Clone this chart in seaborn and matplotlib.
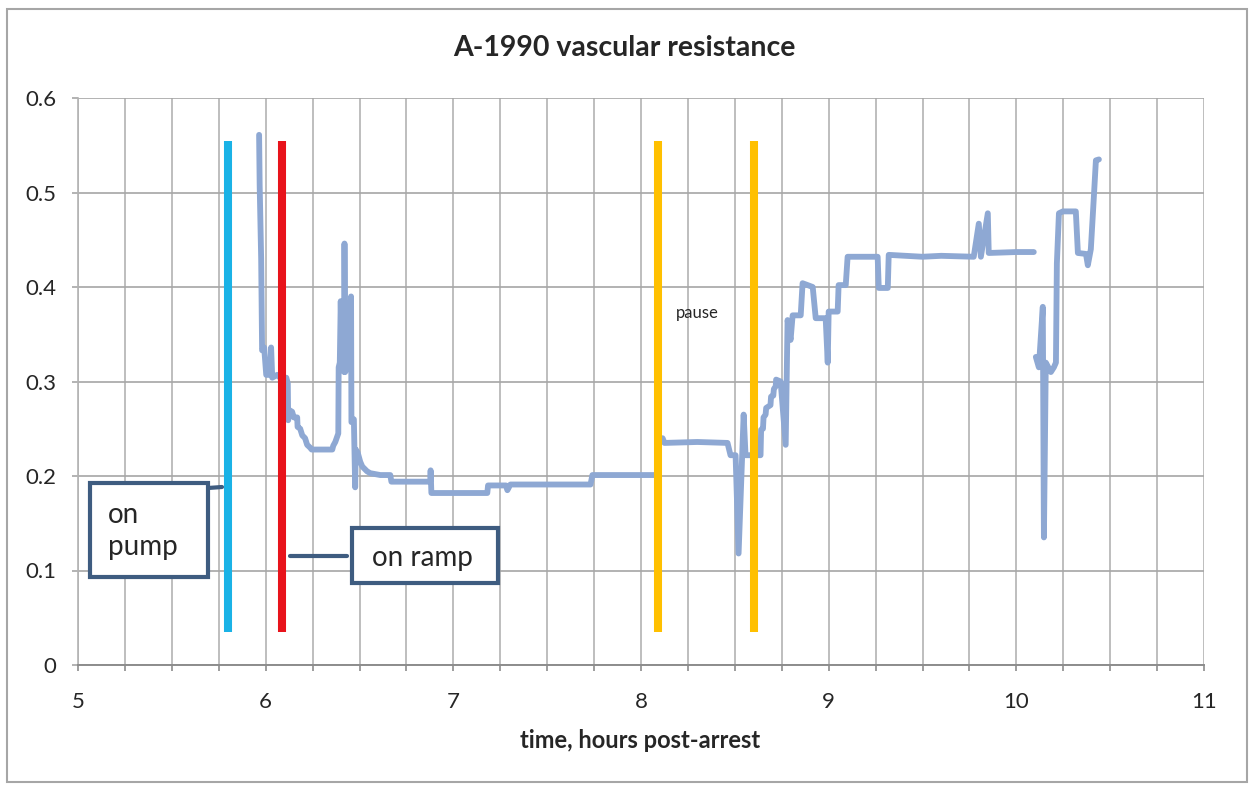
import numpy as np
import pandas as pd
import matplotlib
matplotlib.use("Agg")
import matplotlib.pyplot as plt
from matplotlib.ticker import MultipleLocator
from matplotlib.patches import Rectangle
from matplotlib.lines import Line2D
import seaborn as sns

# ---------------- data ----------------
title = "A-1990 vascular resistance"
x_label = "time, hours post-arrest"

# main trace, part 1 (hours post-arrest, resistance)
time_a = [5.965, 5.968, 5.976, 5.981, 5.992, 6.003, 6.024, 6.029, 6.035, 6.061,
          6.077, 6.110, 6.118, 6.120, 6.124, 6.141, 6.150, 6.168, 6.170, 6.184,
          6.195, 6.210, 6.221, 6.237, 6.245, 6.355, 6.360, 6.371, 6.387, 6.389,
          6.395, 6.400, 6.405, 6.418, 6.420, 6.424, 6.440, 6.455, 6.457, 6.470,
          6.477, 6.480, 6.490, 6.504, 6.515, 6.540, 6.557, 6.611, 6.664, 6.670,
          6.877, 6.879, 6.883, 7.181, 7.185, 7.280, 7.288, 7.304, 7.731, 7.741,
          8.051, 8.088, 8.095, 8.115, 8.125, 8.300, 8.461, 8.477, 8.504, 8.520,
          8.547, 8.557, 8.584, 8.621, 8.637, 8.640, 8.650, 8.653, 8.664, 8.667,
          8.690, 8.693, 8.705, 8.708, 8.718, 8.720, 8.744, 8.771, 8.781, 8.797,
          8.808, 8.851, 8.861, 8.915, 8.931, 8.984, 8.995, 9.000, 9.048, 9.053,
          9.091, 9.101, 9.261, 9.267, 9.315, 9.320, 9.500, 9.600, 9.773, 9.800,
          9.811, 9.848, 9.853, 10.000, 10.093]
res_a = [0.561, 0.508, 0.430, 0.333, 0.336, 0.307, 0.307, 0.336, 0.304, 0.307,
         0.304, 0.304, 0.298, 0.259, 0.270, 0.268, 0.262, 0.262, 0.252, 0.250,
         0.243, 0.240, 0.233, 0.230, 0.228, 0.228, 0.232, 0.236, 0.245, 0.315,
         0.320, 0.385, 0.330, 0.310, 0.446, 0.310, 0.320, 0.390, 0.257, 0.260,
         0.188, 0.228, 0.225, 0.215, 0.210, 0.205, 0.203, 0.201, 0.201, 0.194,
         0.194, 0.206, 0.182, 0.182, 0.190, 0.190, 0.185, 0.191, 0.191, 0.201,
         0.201, 0.201, 0.238, 0.240, 0.235, 0.236, 0.235, 0.222, 0.222, 0.118,
         0.265, 0.222, 0.222, 0.222, 0.222, 0.249, 0.250, 0.262, 0.265, 0.272,
         0.275, 0.284, 0.285, 0.292, 0.295, 0.302, 0.300, 0.233, 0.365, 0.344,
         0.370, 0.370, 0.404, 0.400, 0.367, 0.367, 0.320, 0.374, 0.374, 0.402,
         0.402, 0.432, 0.432, 0.399, 0.399, 0.434, 0.432, 0.433, 0.432, 0.467,
         0.432, 0.478, 0.436, 0.437, 0.437]

# main trace, part 2
time_b = [10.104, 10.120, 10.141, 10.147, 10.157, 10.184, 10.200, 10.211, 10.216,
          10.227, 10.248, 10.317, 10.328, 10.371, 10.381, 10.397, 10.413, 10.424,
          10.440]
res_b = [0.326, 0.315, 0.379, 0.135, 0.320, 0.310, 0.315, 0.320, 0.425,
         0.478, 0.480, 0.480, 0.436, 0.435, 0.423, 0.440, 0.495, 0.534,
         0.535]

# event markers (vertical bars)
event_time = [5.80, 6.088, 8.088, 8.60]
event_color = ["#1AB2E6", "#E8131B", "#FFC000", "#FFC000"]
event_low = 0.035
event_high = 0.555

y_ticks = [0, 0.1, 0.2, 0.3, 0.4, 0.5, 0.6]
y_tick_labels = ["0", "0.1", "0.2", "0.3", "0.4", "0.5", "0.6"]
x_ticks = [5, 6, 7, 8, 9, 10, 11]
x_tick_labels = ["5", "6", "7", "8", "9", "10", "11"]

# ---------------- style ----------------
sns.set_theme(style="white")
plt.rcParams["font.family"] = ["Lato", "DejaVu Sans"]

LINE = "#8EA8D3"
BOX = "#3E5C80"
GRID = "#B3B3B3"
TXT = "#262626"

fig = plt.figure(figsize=(12.49, 7.85), dpi=100)
ax = fig.add_axes([78 / 1249, 1 - 665 / 785, 1126 / 1249, 567 / 785])

df_a = pd.DataFrame({"t": time_a, "r": res_a})
df_b = pd.DataFrame({"t": time_b, "r": res_b})
sns.lineplot(data=df_a, x="t", y="r", ax=ax, color=LINE, lw=4.2, sort=False,
             estimator=None, solid_joinstyle="round", solid_capstyle="round", zorder=3)
sns.lineplot(data=df_b, x="t", y="r", ax=ax, color=LINE, lw=4.2, sort=False,
             estimator=None, solid_joinstyle="round", solid_capstyle="round", zorder=3)

for t, c in zip(event_time, event_color):
    ax.vlines(t, event_low, event_high, color=c, lw=5.8, zorder=4)

ax.set_xlim(5, 11)
ax.set_ylim(0, 0.6)
ax.set_xticks(x_ticks)
ax.set_xticklabels(x_tick_labels)
ax.set_yticks(y_ticks)
ax.set_yticklabels(y_tick_labels)
ax.xaxis.set_minor_locator(MultipleLocator(0.25))
ax.grid(True, which="both", axis="x", color=GRID, lw=1.2, zorder=0)
ax.grid(True, which="major", axis="y", color="#A6A6A6", lw=1.2, zorder=0)
ax.set_axisbelow(True)

for s in ["top", "right"]:
    ax.spines[s].set_visible(False)
ax.spines["left"].set_color(GRID)
ax.spines["left"].set_linewidth(1.2)
ax.spines["bottom"].set_color("#8C8C8C")
ax.spines["bottom"].set_linewidth(1.4)

ax.tick_params(axis="x", which="both", direction="out", length=4.3, width=1.2,
               color="#8C8C8C", bottom=True)
ax.tick_params(axis="x", which="major", labelsize=16, labelcolor=TXT, pad=15)
ax.tick_params(axis="y", which="major", direction="out", length=4.3, width=1.2,
               color="#A6A6A6", left=True, labelsize=16, labelcolor=TXT, pad=11)
ax.set_xlabel("")
ax.set_ylabel("")

# annotations
ax.add_patch(Rectangle((12 / 1126, 88 / 567), 118 / 1126, 94 / 567, transform=ax.transAxes,
                       fill=True, facecolor="white", edgecolor=BOX, lw=3, zorder=5,
                       clip_on=False))
ax.text(30 / 1126, (665 - 531) / 567, "on\npump", transform=ax.transAxes, ha="left",
        va="center", fontsize=20, color=TXT, linespacing=1.3, zorder=6)
ax.add_line(Line2D([(208 - 78) / 1126, (222 - 78) / 1126],
                   [(665 - 488) / 567, (665 - 487) / 567], transform=ax.transAxes,
                   color=BOX, lw=3, zorder=5))

ax.add_patch(Rectangle(((352 - 78) / 1126, (665 - 583) / 567), 146 / 1126, 55 / 567,
                       transform=ax.transAxes, fill=True, facecolor="white",
                       edgecolor=BOX, lw=3, zorder=5))
ax.text((372 - 78) / 1126, (665 - 558) / 567, "on ramp", transform=ax.transAxes,
        ha="left", va="center", fontsize=20, color=TXT, zorder=6)
ax.add_line(Line2D([(290 - 78) / 1126, (347 - 78) / 1126],
                   [(665 - 556) / 567, (665 - 556) / 567], transform=ax.transAxes,
                   color=BOX, lw=3, zorder=5))

ax.text((697 - 78) / 1126, (665 - 313) / 567, "pause", transform=ax.transAxes,
        ha="center", va="center", fontsize=12, color=TXT, zorder=6)

fig.text(624.5 / 1249, 1 - 48 / 785, title, ha="center", va="center",
         fontsize=20.5, fontweight="bold", color=TXT)
fig.text(640 / 1249, 1 - 741 / 785, x_label, ha="center", va="center",
         fontsize=17, fontweight="bold", color=TXT)

# outer chart border
fig.patches.append(Rectangle((7 / 1249, 3 / 785), 1240 / 1249, 773 / 785,
                             transform=fig.transFigure, fill=False,
                             edgecolor="#A6A6A6", lw=1.5, zorder=0))

fig.savefig("out.png", dpi=100, facecolor="white")
